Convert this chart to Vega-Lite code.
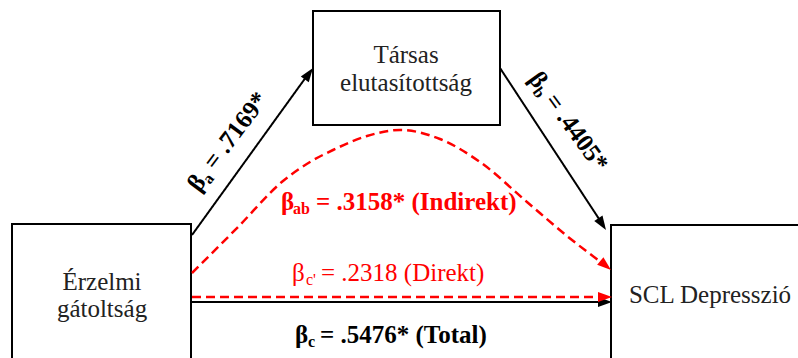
{
  "$schema": "https://vega.github.io/schema/vega-lite/v6.json",
  "width": 798,
  "height": 358,
  "autosize": {"type": "fit", "contains": "padding"},
  "padding": 0,
  "background": "white",
  "config": {"view": {"stroke": null}},
  "datasets": {
    "nodes": [
      {"node": "Érzelmi gátoltság", "x": 12, "x2": 191, "y": 224, "y2": 380},
      {"node": "Társas elutasítottság", "x": 313, "x2": 500, "y": 11, "y2": 125},
      {"node": "SCL Depresszió", "x": 611, "x2": 820, "y": 225, "y2": 380}
    ],
    "edges": [
      {"edge": "a", "effect": "path", "order": 0, "x": 192, "y": 235},
      {"edge": "a", "effect": "path", "order": 1, "x": 309, "y": 73},
      {"edge": "b", "effect": "path", "order": 0, "x": 500, "y": 68},
      {"edge": "b", "effect": "path", "order": 1, "x": 603, "y": 225},
      {"edge": "c", "effect": "total", "order": 0, "x": 192, "y": 302},
      {"edge": "c", "effect": "total", "order": 1, "x": 605, "y": 302},
      {"edge": "c'", "effect": "direct", "order": 0, "x": 192, "y": 297},
      {"edge": "c'", "effect": "direct", "order": 1, "x": 604, "y": 297},
      {"edge": "ab", "effect": "indirect", "order": 0, "x": 192, "y": 273},
      {"edge": "ab", "effect": "indirect", "order": 1, "x": 238, "y": 227},
      {"edge": "ab", "effect": "indirect", "order": 2, "x": 283, "y": 181},
      {"edge": "ab", "effect": "indirect", "order": 3, "x": 310, "y": 162},
      {"edge": "ab", "effect": "indirect", "order": 4, "x": 333, "y": 150},
      {"edge": "ab", "effect": "indirect", "order": 5, "x": 367, "y": 136},
      {"edge": "ab", "effect": "indirect", "order": 6, "x": 400, "y": 130},
      {"edge": "ab", "effect": "indirect", "order": 7, "x": 440, "y": 139},
      {"edge": "ab", "effect": "indirect", "order": 8, "x": 480, "y": 162},
      {"edge": "ab", "effect": "indirect", "order": 9, "x": 527, "y": 202},
      {"edge": "ab", "effect": "indirect", "order": 10, "x": 567, "y": 236},
      {"edge": "ab", "effect": "indirect", "order": 11, "x": 606, "y": 266}
    ],
    "heads": [
      {"edge": "a", "effect": "path", "x": 313, "y": 68, "heading": 36},
      {"edge": "b", "effect": "path", "x": 606, "y": 230, "heading": 147},
      {"edge": "c", "effect": "total", "x": 612, "y": 302, "heading": 90},
      {"edge": "c'", "effect": "direct", "x": 612, "y": 297, "heading": 90},
      {"edge": "ab", "effect": "indirect", "x": 611, "y": 270, "heading": 130}
    ],
    "nodeLabels": [
      {"text": "Társas", "x": 406, "y": 63},
      {"text": "elutasítottság", "x": 406, "y": 91},
      {"text": "Érzelmi", "x": 102, "y": 290},
      {"text": "gátoltság", "x": 102, "y": 317},
      {"text": "SCL Depresszió", "x": 710, "y": 303}
    ],
    "coefs": [
      {"edge": "a", "effect": "path", "part": "main", "x": 199, "y": 193, "text": "β"},
      {"edge": "a", "effect": "path", "part": "sub", "x": 210, "y": 185, "text": "a"},
      {"edge": "a", "effect": "path", "part": "main", "x": 215, "y": 171, "text": "= .7169*"},
      {"edge": "b", "effect": "path", "part": "main", "x": 528, "y": 79, "text": "β"},
      {"edge": "b", "effect": "path", "part": "sub", "x": 532, "y": 92, "text": "b"},
      {"edge": "b", "effect": "path", "part": "main", "x": 544, "y": 101, "text": "= .4405*"},
      {"edge": "ab", "effect": "indirect", "part": "main", "x": 281, "y": 210, "text": "β"},
      {"edge": "ab", "effect": "indirect", "part": "sub", "x": 293, "y": 214, "text": "ab"},
      {"edge": "ab", "effect": "indirect", "part": "main", "x": 316, "y": 210, "text": "= .3158* (Indirekt)"},
      {"edge": "c'", "effect": "direct", "part": "main", "x": 292, "y": 281, "text": "β"},
      {"edge": "c'", "effect": "direct", "part": "sub", "x": 306, "y": 285, "text": "c'"},
      {"edge": "c'", "effect": "direct", "part": "main", "x": 321, "y": 281, "text": "= .2318 (Direkt)"},
      {"edge": "c", "effect": "total", "part": "main", "x": 295, "y": 343, "text": "β"},
      {"edge": "c", "effect": "total", "part": "sub", "x": 308, "y": 347, "text": "c"},
      {"edge": "c", "effect": "total", "part": "main", "x": 320, "y": 343, "text": "= .5476* (Total)"}
    ]
  },
  "resolve": {"scale": {"color": "shared", "x": "shared", "y": "shared"}},
  "layer": [
    {
      "data": {"name": "nodes"},
      "mark": {"type": "rect", "fill": "white", "stroke": "black", "strokeWidth": 2, "clip": true},
      "encoding": {
        "x": {"field": "x", "type": "quantitative", "scale": {"domain": [0, 798], "nice": false, "zero": false}, "axis": null},
        "x2": {"field": "x2"},
        "y": {"field": "y", "type": "quantitative", "scale": {"domain": [0, 358], "nice": false, "zero": false, "reverse": true}, "axis": null},
        "y2": {"field": "y2"}
      }
    },
    {
      "data": {"name": "edges"},
      "mark": {"type": "line", "interpolate": "monotone", "clip": true},
      "encoding": {
        "x": {"field": "x", "type": "quantitative"},
        "y": {"field": "y", "type": "quantitative"},
        "detail": {"field": "edge"},
        "order": {"field": "order", "type": "quantitative"},
        "color": {"field": "effect", "type": "nominal", "legend": null,
          "scale": {"domain": ["path", "total", "indirect", "direct"], "range": ["#000000", "#000000", "#ff0000", "#ff0000"]}},
        "strokeDash": {"field": "effect", "type": "nominal", "legend": null,
          "scale": {"domain": ["path", "total", "indirect", "direct"], "range": [[1, 0], [1, 0], [9, 5], [9, 5]]}},
        "strokeWidth": {"field": "effect", "type": "nominal", "legend": null,
          "scale": {"type": "ordinal", "domain": ["path", "total", "indirect", "direct"], "range": [2, 2, 2.5, 2.5]}}
      }
    },
    {
      "data": {"name": "heads"},
      "mark": {"type": "point", "shape": "M0,0L-0.7,2L0.7,2Z", "size": 196, "filled": true, "opacity": 1, "strokeWidth": 0},
      "encoding": {
        "x": {"field": "x", "type": "quantitative"},
        "y": {"field": "y", "type": "quantitative"},
        "angle": {"field": "heading", "type": "quantitative", "scale": null},
        "color": {"field": "effect", "type": "nominal", "legend": null}
      }
    },
    {
      "data": {"name": "nodeLabels"},
      "mark": {"type": "text", "font": "Liberation Serif", "fontSize": 25, "align": "center", "baseline": "alphabetic", "color": "#222222"},
      "encoding": {
        "x": {"field": "x", "type": "quantitative"},
        "y": {"field": "y", "type": "quantitative"},
        "text": {"field": "text"}
      }
    },
    {
      "data": {"name": "coefs"},
      "transform": [{"filter": "(datum.edge == 'ab' || datum.edge == 'c') && datum.part == 'main'"}],
      "mark": {"type": "text", "font": "Liberation Serif", "fontWeight": "bold", "fontSize": 25, "align": "left", "baseline": "alphabetic"},
      "encoding": {
        "x": {"field": "x", "type": "quantitative"},
        "y": {"field": "y", "type": "quantitative"},
        "text": {"field": "text"},
        "color": {"field": "effect", "type": "nominal", "legend": null}
      }
    },
    {
      "data": {"name": "coefs"},
      "transform": [{"filter": "(datum.edge == 'ab' || datum.edge == 'c') && datum.part == 'sub'"}],
      "mark": {"type": "text", "font": "Liberation Serif", "fontWeight": "bold", "fontSize": 16, "align": "left", "baseline": "alphabetic"},
      "encoding": {
        "x": {"field": "x", "type": "quantitative"},
        "y": {"field": "y", "type": "quantitative"},
        "text": {"field": "text"},
        "color": {"field": "effect", "type": "nominal", "legend": null}
      }
    },
    {
      "data": {"name": "coefs"},
      "transform": [{"filter": "datum.edge == \"c'\" && datum.part == 'main'"}],
      "mark": {"type": "text", "font": "Liberation Serif", "fontSize": 25, "align": "left", "baseline": "alphabetic"},
      "encoding": {
        "x": {"field": "x", "type": "quantitative"},
        "y": {"field": "y", "type": "quantitative"},
        "text": {"field": "text"},
        "color": {"field": "effect", "type": "nominal", "legend": null}
      }
    },
    {
      "data": {"name": "coefs"},
      "transform": [{"filter": "datum.edge == \"c'\" && datum.part == 'sub'"}],
      "mark": {"type": "text", "font": "Liberation Serif", "fontSize": 16, "align": "left", "baseline": "alphabetic"},
      "encoding": {
        "x": {"field": "x", "type": "quantitative"},
        "y": {"field": "y", "type": "quantitative"},
        "text": {"field": "text"},
        "color": {"field": "effect", "type": "nominal", "legend": null}
      }
    },
    {
      "data": {"name": "coefs"},
      "transform": [{"filter": "datum.edge == 'a' && datum.part == 'main'"}],
      "mark": {"type": "text", "font": "Liberation Serif", "fontWeight": "bold", "fontSize": 25, "align": "left", "baseline": "alphabetic", "angle": -53},
      "encoding": {
        "x": {"field": "x", "type": "quantitative"},
        "y": {"field": "y", "type": "quantitative"},
        "text": {"field": "text"},
        "color": {"field": "effect", "type": "nominal", "legend": null}
      }
    },
    {
      "data": {"name": "coefs"},
      "transform": [{"filter": "datum.edge == 'a' && datum.part == 'sub'"}],
      "mark": {"type": "text", "font": "Liberation Serif", "fontWeight": "bold", "fontSize": 16, "align": "left", "baseline": "alphabetic", "angle": -53},
      "encoding": {
        "x": {"field": "x", "type": "quantitative"},
        "y": {"field": "y", "type": "quantitative"},
        "text": {"field": "text"},
        "color": {"field": "effect", "type": "nominal", "legend": null}
      }
    },
    {
      "data": {"name": "coefs"},
      "transform": [{"filter": "datum.edge == 'b' && datum.part == 'main'"}],
      "mark": {"type": "text", "font": "Liberation Serif", "fontWeight": "bold", "fontSize": 25, "align": "left", "baseline": "alphabetic", "angle": 54},
      "encoding": {
        "x": {"field": "x", "type": "quantitative"},
        "y": {"field": "y", "type": "quantitative"},
        "text": {"field": "text"},
        "color": {"field": "effect", "type": "nominal", "legend": null}
      }
    },
    {
      "data": {"name": "coefs"},
      "transform": [{"filter": "datum.edge == 'b' && datum.part == 'sub'"}],
      "mark": {"type": "text", "font": "Liberation Serif", "fontWeight": "bold", "fontSize": 16, "align": "left", "baseline": "alphabetic", "angle": 54},
      "encoding": {
        "x": {"field": "x", "type": "quantitative"},
        "y": {"field": "y", "type": "quantitative"},
        "text": {"field": "text"},
        "color": {"field": "effect", "type": "nominal", "legend": null}
      }
    }
  ]
}
